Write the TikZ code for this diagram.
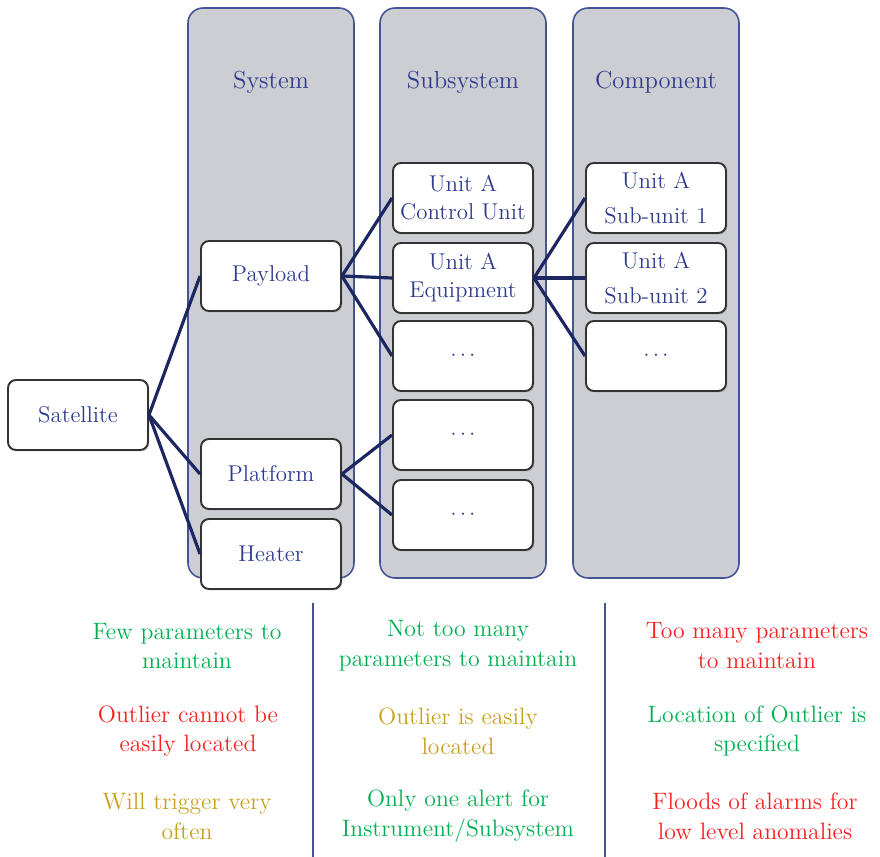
\documentclass[tikz,border=0pt]{standalone}
\usetikzlibrary{shadows}

\definecolor{colframe}{RGB}{68,84,150}
\definecolor{colfill}{RGB}{205,205,212}
\definecolor{navytext}{RGB}{47,60,140}
\definecolor{linkcol}{RGB}{28,38,96}
\definecolor{okgreen}{RGB}{0,176,80}
\definecolor{badred}{RGB}{250,30,30}
\definecolor{warngold}{RGB}{200,160,30}

\tikzset{
  level/.style={draw=colframe, fill=colfill, line width=0.9pt, rounded corners=3mm},
  heading/.style={text=navytext, font=\fontsize{14}{16.5}\selectfont},
  unit/.style={draw=black!80, fill=white, line width=1.1pt, rounded corners=1.6mm,
    minimum width=28mm, minimum height=14mm, inner sep=2pt, align=center, text=navytext,
    font=\fontsize{13}{16}\selectfont,
    drop shadow={shadow xshift=0.8pt, shadow yshift=-0.8pt, opacity=0.35}},
  link/.style={draw=linkcol, line width=1.8pt},
  note/.style={align=center, font=\fontsize{13.5}{17}\selectfont},
}

\begin{document}
\begin{tikzpicture}[x=0.2mm, y=-0.2mm]
        \useasboundingbox (0,0) rectangle (880,857);

        % the three levels
        \draw[level] (188,8) rectangle (354,578);
        \draw[level] (380,8) rectangle (546,578);
        \draw[level] (573,8) rectangle (739,578);
        \node[heading] (system) at (271,82) {System};
        \node[heading] (subsystem) at (463,82) {Subsystem};
        \node[heading] (component) at (656,82) {Component};

        % tree
        \node[unit] (satellite) at (78,415) {Satellite};

        \node[unit] (payload) at (271,276) {Payload};
        \node[unit] (platform) at (271,474) {Platform};
        \node[unit] (heater) at (271,554) {Heater};

        \node[unit] (ctrl) at (463,198) {Unit A\\Control Unit};
        \node[unit] (equip) at (463,278) {Unit A\\Equipment};
        \node[unit] (subdotsA) at (463,356) {$\cdots$};
        \node[unit] (subdotsB) at (463,435) {$\cdots$};
        \node[unit] (subdotsC) at (463,515) {$\cdots$};

        \node[unit] (subunitA) at (656,198) {Unit A\\[1.4mm]Sub-unit 1};
        \node[unit] (subunitB) at (656,278) {Unit A\\[1.4mm]Sub-unit 2};
        \node[unit] (compdots) at (656,356) {$\cdots$};

        \foreach \n in {payload, platform, heater}
          \draw[link] (satellite.east) -- (\n.west);
        \foreach \n in {ctrl, equip, subdotsA}
          \draw[link] (payload.east) -- (\n.west);
        \foreach \n in {subdotsB, subdotsC}
          \draw[link] (platform.east) -- (\n.west);
        \foreach \n in {subunitA, subunitB, compdots}
          \draw[link] (equip.east) -- (\n.west);

        % pros and cons below each level
        \draw[colframe, line width=1.2pt] (313,603) -- (313,857);
        \draw[colframe, line width=1.2pt] (605,603) -- (605,857);

        \node[note, okgreen] (sysparam) at (187,646) {Few parameters to\\maintain};
        \node[note, badred] (sysloc) at (188,731) {Outlier cannot be\\easily located};
        \node[note, warngold] (sysalert) at (187,816) {Will trigger very\\often};

        \node[note, okgreen] (subparam) at (458,646) {Not too many\\parameters to maintain};
        \node[note, warngold] (subloc) at (458,731) {Outlier is easily\\located};
        \node[note, okgreen] (subalert) at (458,816) {Only one alert for\\Instrument/Subsystem};

        \node[note, badred] (compparam) at (757,646) {Too many parameters\\to maintain};
        \node[note, okgreen] (comploc) at (757,731) {Location of Outlier is\\specified};
        \node[note, badred] (compalert) at (755,816) {Floods of alarms for\\low level anomalies};
\end{tikzpicture}
\end{document}
